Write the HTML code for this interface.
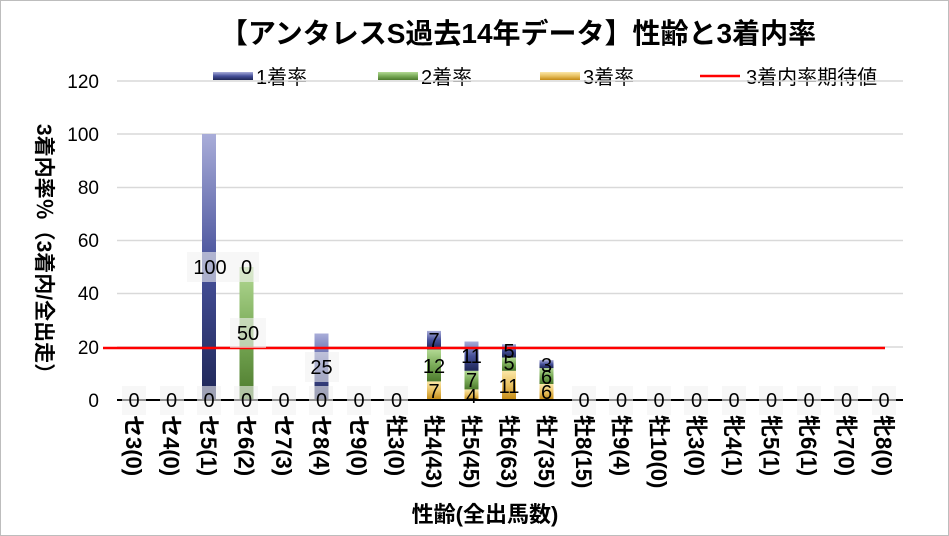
<!DOCTYPE html>
<html><head><meta charset="utf-8"><style>
body{margin:0;background:#fff}
svg{display:block;font-family:"Liberation Sans","Noto Sans CJK JP",sans-serif}
</style></head><body>
<svg width="949" height="536" viewBox="0 0 949 536" xmlns="http://www.w3.org/2000/svg">
<defs>
<linearGradient id="gb" x1="0" y1="1" x2="0" y2="0"><stop offset="0" stop-color="#1e2656"/><stop offset="0.5" stop-color="#46509a"/><stop offset="1" stop-color="#a9add9"/></linearGradient>
<linearGradient id="gg" x1="0" y1="1" x2="0" y2="0"><stop offset="0" stop-color="#4c7a2c"/><stop offset="0.5" stop-color="#7aab58"/><stop offset="1" stop-color="#b3d994"/></linearGradient>
<linearGradient id="gy" x1="0" y1="1" x2="0" y2="0"><stop offset="0" stop-color="#c38a14"/><stop offset="0.5" stop-color="#e8c060"/><stop offset="1" stop-color="#fbe7a8"/></linearGradient>
</defs>
<rect x="0.5" y="0.5" width="948" height="535" fill="#fff" stroke="#bdbdbd"/>
<text x="518" y="43" font-size="28" font-weight="bold" text-anchor="middle" fill="#000">【アンタレスS過去14年データ】性齢と3着内率</text>
<!-- legend -->
<rect x="213" y="72" width="40" height="8" fill="url(#gb)"/><text x="256" y="84" font-size="20">1着率</text>
<rect x="378" y="72" width="40" height="8" fill="url(#gg)"/><text x="421" y="84" font-size="20">2着率</text>
<rect x="540" y="72" width="40" height="8" fill="url(#gy)"/><text x="583" y="84" font-size="20">3着率</text>
<line x1="700" y1="76" x2="740" y2="76" stroke="#ff0000" stroke-width="2.5"/><text x="746" y="84" font-size="20">3着内率期待値</text>
<!-- grid -->
<g stroke="#d9d9d9" stroke-width="1.5">
<line x1="117" y1="81" x2="903" y2="81"/><line x1="117" y1="134" x2="903" y2="134"/>
<line x1="117" y1="187.5" x2="903" y2="187.5"/><line x1="117" y1="240.5" x2="903" y2="240.5"/>
<line x1="117" y1="293.5" x2="903" y2="293.5"/><line x1="117" y1="347" x2="903" y2="347"/>
</g>
<g font-size="19" text-anchor="end">
<text x="99" y="88">120</text><text x="99" y="141">100</text><text x="99" y="194">80</text>
<text x="99" y="247">60</text><text x="99" y="300">40</text><text x="99" y="354">20</text><text x="99" y="407">0</text>
</g>
<text transform="translate(37,254) rotate(90)" font-size="21" font-weight="bold" text-anchor="middle">3着内率％（3着内/全出走）</text>
<!-- bars -->
<rect x="202" y="134" width="14" height="266" fill="url(#gb)"/>
<rect x="239.5" y="267" width="14" height="133" fill="url(#gg)"/>
<rect x="314.5" y="333.5" width="14" height="66.5" fill="url(#gb)"/>
<rect x="427" y="381.4" width="14" height="18.6" fill="url(#gy)"/><rect x="427" y="349.5" width="14" height="31.9" fill="url(#gg)"/><rect x="427" y="330.9" width="14" height="18.6" fill="url(#gb)"/>
<rect x="464.5" y="389.4" width="14" height="10.6" fill="url(#gy)"/><rect x="464.5" y="370.8" width="14" height="18.6" fill="url(#gg)"/><rect x="464.5" y="341.5" width="14" height="29.3" fill="url(#gb)"/>
<rect x="502" y="370.8" width="14" height="29.2" fill="url(#gy)"/><rect x="502" y="357.5" width="14" height="13.3" fill="url(#gg)"/><rect x="502" y="344.2" width="14" height="13.3" fill="url(#gb)"/>
<rect x="539.5" y="384" width="14" height="16" fill="url(#gy)"/><rect x="539.5" y="368.1" width="14" height="15.9" fill="url(#gg)"/><rect x="539.5" y="360.1" width="14" height="8" fill="url(#gb)"/>
<line x1="117" y1="400" x2="903" y2="400" stroke="#000" stroke-width="2"/>
<line x1="103" y1="348" x2="885" y2="348" stroke="#ff0000" stroke-width="2.5"/>
<!-- labels -->
<g font-size="20" text-anchor="middle">
<g fill="#f2f2f2" fill-opacity="0.6">
<rect x="122" y="386" width="24" height="29"/><rect x="160" y="386" width="24" height="29"/><rect x="197" y="386" width="24" height="29"/><rect x="234" y="386" width="24" height="29"/><rect x="272" y="386" width="24" height="29"/><rect x="309" y="386" width="24" height="29"/><rect x="347" y="386" width="24" height="29"/><rect x="384" y="386" width="24" height="29"/>
<rect x="572" y="386" width="24" height="29"/><rect x="609" y="386" width="24" height="29"/><rect x="647" y="386" width="24" height="29"/><rect x="684" y="386" width="24" height="29"/><rect x="722" y="386" width="24" height="29"/><rect x="759" y="386" width="24" height="29"/><rect x="797" y="386" width="24" height="29"/><rect x="834" y="386" width="24" height="29"/><rect x="872" y="386" width="24" height="29"/>
<rect x="187" y="252" width="47" height="30"/><rect x="234" y="252" width="25" height="30"/><rect x="230" y="318" width="36" height="30"/><rect x="305" y="352" width="34" height="30"/>
</g>
<text x="134" y="407">0</text><text x="171.5" y="407">0</text><text x="209" y="407">0</text><text x="246.5" y="407">0</text><text x="284" y="407">0</text><text x="321.5" y="407">0</text><text x="359" y="407">0</text><text x="396.5" y="407">0</text>
<text x="584" y="407">0</text><text x="621.5" y="407">0</text><text x="659" y="407">0</text><text x="696.5" y="407">0</text><text x="734" y="407">0</text><text x="771.5" y="407">0</text><text x="809" y="407">0</text><text x="846.5" y="407">0</text><text x="884" y="407">0</text>
<text x="210" y="274">100</text><text x="246.5" y="274">0</text><text x="248" y="340">50</text><text x="321.5" y="374">25</text>
<text x="434" y="347">7</text><text x="434" y="373">12</text><text x="434" y="398">7</text>
<text x="471.5" y="363">11</text><text x="471.5" y="387">7</text><text x="471.5" y="403">4</text>
<text x="509" y="358">5</text><text x="509" y="370">5</text><text x="509" y="393">11</text>
<text x="546.5" y="372">3</text><text x="546.5" y="384">6</text><text x="546.5" y="399">6</text>
</g>
<!-- x labels -->
<g font-size="22" font-weight="bold">
<text transform="translate(126,415) rotate(90)">セ3(0)</text>
<text transform="translate(163.5,415) rotate(90)">セ4(0)</text>
<text transform="translate(201,415) rotate(90)">セ5(1)</text>
<text transform="translate(238.5,415) rotate(90)">セ6(2)</text>
<text transform="translate(276,415) rotate(90)">セ7(3)</text>
<text transform="translate(313.5,415) rotate(90)">セ8(4)</text>
<text transform="translate(351,415) rotate(90)">セ9(0)</text>
<text transform="translate(388.5,415) rotate(90)">牡3(0)</text>
<text transform="translate(426,415) rotate(90)">牡4(43)</text>
<text transform="translate(463.5,415) rotate(90)">牡5(45)</text>
<text transform="translate(501,415) rotate(90)">牡6(63)</text>
<text transform="translate(538.5,415) rotate(90)">牡7(35)</text>
<text transform="translate(576,415) rotate(90)">牡8(15)</text>
<text transform="translate(613.5,415) rotate(90)">牡9(4)</text>
<text transform="translate(651,415) rotate(90)">牡10(0)</text>
<text transform="translate(688.5,415) rotate(90)">牝3(0)</text>
<text transform="translate(726,415) rotate(90)">牝4(1)</text>
<text transform="translate(763.5,415) rotate(90)">牝5(1)</text>
<text transform="translate(801,415) rotate(90)">牝6(1)</text>
<text transform="translate(838.5,415) rotate(90)">牝7(0)</text>
<text transform="translate(876,415) rotate(90)">牝8(0)</text>
</g>
<text x="485" y="522" font-size="22" font-weight="bold" text-anchor="middle">性齢(全出馬数)</text>
</svg>
</body></html>
